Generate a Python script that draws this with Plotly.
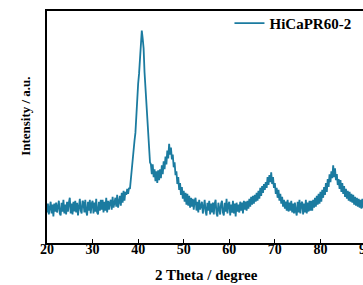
import plotly.graph_objects as go

# 2-theta grid (degrees), 0.2 deg steps from 20 to 90
two_theta = [round(20 + 0.2 * i, 1) for i in range(351)]

intensity = [
    31, 40, 29, 38, 42, 30, 39, 27, 40, 32,
    41, 31, 39, 43, 30, 28, 41, 32, 44, 30,
    39, 29, 42, 32, 41, 46, 30, 40, 29, 42,
    32, 43, 31, 41, 28, 42, 45, 33, 30, 43,
    41, 31, 44, 32, 28, 42, 33, 44, 30, 40,
    43, 30, 41, 32, 45, 31, 29, 42, 33, 44,
    34, 44, 31, 42, 33, 46, 31, 43, 34, 41,
    44, 34, 47, 36, 43, 46, 37, 49, 36, 45,
    48, 38, 51, 41, 53, 43, 52, 49, 55, 50,
    56, 55, 66, 70, 86, 91, 104, 112, 132, 142,
    162, 172, 192, 202, 216, 208, 198, 174, 158, 134,
    124, 104, 96, 82, 80, 70, 80, 67, 75, 63,
    73, 61, 74, 64, 75, 66, 79, 70, 83, 75,
    88, 80, 94, 86, 101, 90, 97, 85, 90, 77,
    82, 69, 73, 60, 67, 54, 61, 49, 57, 45,
    53, 42, 51, 39, 50, 38, 48, 36, 46, 37,
    45, 34, 43, 46, 33, 42, 31, 44, 34, 40,
    42, 30, 40, 44, 32, 28, 41, 33, 43, 29,
    40, 31, 41, 29, 40, 44, 30, 27, 41, 32,
    29, 40, 43, 31, 28, 41, 32, 45, 30, 39,
    42, 28, 39, 31, 43, 30, 40, 27, 41, 32,
    39, 31, 42, 33, 41, 30, 43, 34, 42, 33,
    43, 35, 45, 37, 47, 39, 48, 40, 49, 42,
    51, 43, 53, 45, 56, 48, 58, 51, 60, 54,
    62, 56, 67, 59, 69, 62, 72, 60, 67, 56,
    61, 50, 56, 46, 54, 43, 50, 40, 47, 37,
    44, 35, 42, 33, 44, 32, 41, 33, 43, 31,
    40, 30, 41, 32, 28, 42, 31, 44, 30, 40,
    42, 29, 40, 31, 44, 30, 41, 32, 43, 33,
    43, 33, 44, 36, 46, 37, 48, 39, 50, 40,
    52, 42, 54, 46, 57, 49, 61, 52, 65, 57,
    70, 62, 73, 66, 79, 67, 76, 64, 70, 59,
    65, 55, 64, 52, 61, 50, 58, 47, 55, 45,
    53, 43, 52, 42, 50, 41, 49, 39, 47, 38,
    46, 37, 45, 36, 44, 35, 45, 36, 46, 37, 43,
]

x_ticks = [20, 30, 40, 50, 60, 70, 80, 90]
series_name = "HiCaPR60-2"
line_color = "#1b7ba0"
font_family = "Liberation Serif"

fig = go.Figure()
fig.add_trace(go.Scatter(
    x=two_theta, y=intensity, mode="lines", name=series_name,
    line=dict(color=line_color, width=1.8),
))

fig.update_layout(
    width=380, height=285,
    margin=dict(l=47, r=11, t=7, b=42),
    paper_bgcolor="white", plot_bgcolor="white",
    font=dict(family=font_family, size=14, color="black"),
    showlegend=True,
    legend=dict(
        x=0.572, y=1.018, xanchor="left", yanchor="top",
        bgcolor="rgba(0,0,0,0)", borderwidth=0,
        font=dict(family=font_family, size=15, color="black", weight="bold"),
    ),
    xaxis=dict(
        range=[20, 90], tickvals=x_ticks,
        showline=True, linecolor="black", linewidth=1.6, mirror=True,
        ticks="inside", ticklen=4, tickwidth=1.4, tickcolor="black",
        showgrid=False, zeroline=False, ticklabelstandoff=-8,
        tickfont=dict(family=font_family, size=14, color="black", weight="bold"),
    ),
    yaxis=dict(
        range=[0, 236], showticklabels=False, ticks="",
        showline=True, linecolor="black", linewidth=1.6, mirror=True,
        showgrid=False, zeroline=False,
    ),
    annotations=[
        dict(
            text="Intensity / a.u.", textangle=-90,
            xref="paper", yref="paper", x=-0.068, y=0.545,
            xanchor="center", yanchor="middle", showarrow=False,
            font=dict(family=font_family, size=13, color="black", weight="bold"),
        ),
        dict(
            text="2 Theta / degree",
            xref="paper", yref="paper", x=(207.5 - 47) / 322, y=-0.136,
            xanchor="center", yanchor="middle", showarrow=False,
            font=dict(family=font_family, size=15, color="black", weight="bold"),
        ),
    ],
)

fig.write_html(
    "out.html",
    config={"displayModeBar": False},
    post_script="document.body.style.margin='0';document.body.style.overflow='hidden';document.documentElement.style.overflow='hidden';",
)
